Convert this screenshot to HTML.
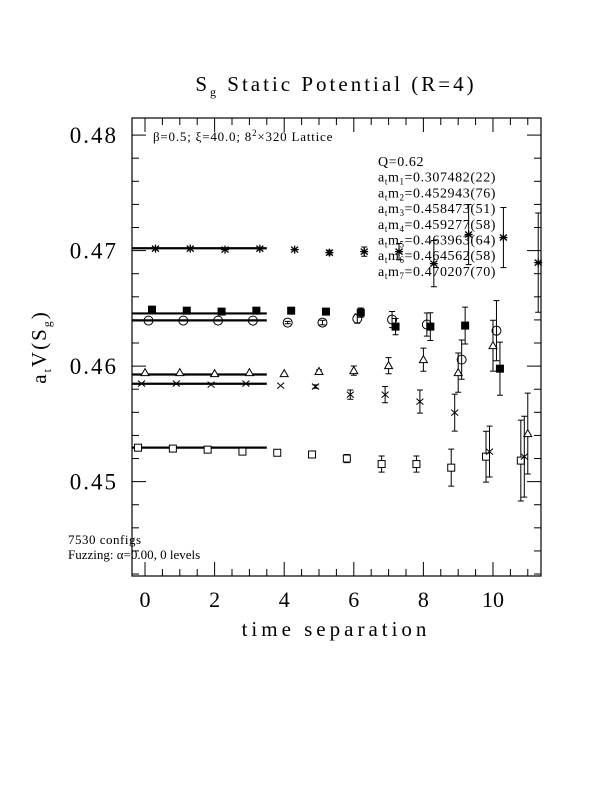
<!DOCTYPE html>
<html><head><meta charset="utf-8"><style>
body{margin:0;background:#fff}
svg{display:block;font-family:"Liberation Serif",serif}
</style></head><body>
<svg id="chart" width="612" height="792" viewBox="0 0 612 792">
<text x="336" y="91" font-size="21" letter-spacing="3" text-anchor="middle">S<tspan font-size="12" dy="5">g</tspan><tspan dy="-5"> Static Potential (R=4)</tspan></text>
<rect x="132" y="118" width="409" height="458" fill="none" stroke="#000" stroke-width="1.2"/>
<g id="ticks"></g>
<g id="marks"></g>
<text x="153" y="141" font-size="13" letter-spacing="0.8">β=0.5; ξ=40.0; 8<tspan font-size="9" dy="-5">2</tspan><tspan dy="5">×320 Lattice</tspan></text>
<g font-size="14" id="legend"></g>
<text x="68" y="544" font-size="13" letter-spacing="0.5">7530 configs</text>
<text x="68" y="559" font-size="13">Fuzzing: α=0.00, 0 levels</text>
<text x="336" y="636" font-size="21" letter-spacing="4" text-anchor="middle">time separation</text>
<text transform="translate(46,347) rotate(-90)" font-size="21" letter-spacing="2" text-anchor="middle">a<tspan font-size="12" dy="5">t</tspan><tspan dy="-5">V(S</tspan><tspan font-size="12" dy="5">g</tspan><tspan dy="-5">)</tspan></text>
</svg>
<script>
const times=[0,1,2,3,4,5,6,7,8,9,10,11];
const masses=[0.452943,0.458473,0.459277,0.463963,0.464562,0.470207];
const sqVals=[0.45294,0.45286,0.45277,0.4526,0.4525,0.45235,0.4520,0.45152,0.45152,0.45121,0.45216,0.45182];
const sqErr=[0.00005,0.00005,0.00005,0.00006,0.00007,0.0001,0.00035,0.0007,0.0007,0.0016,0.0022,0.0035];
const crVals=[0.45849,0.45849,0.4584,0.45849,0.45831,0.45823,0.45753,0.45753,0.45693,0.45597,0.45260,0.45216];
const crErr=[0.00005,0.00005,0.00005,0.00006,0.00008,0.00015,0.0004,0.0007,0.001,0.0016,0.0022,0.0035];
const trVals=[0.45944,0.45944,0.45935,0.45944,0.45935,0.45953,0.45961,0.46004,0.46056,0.45944,0.46177,0.45416];
const trErr=[0.00005,0.00005,0.00005,0.00006,0.00008,0.00015,0.0004,0.0007,0.001,0.0017,0.0022,0.0035];
const ciVals=[0.46394,0.46394,0.46394,0.46394,0.46377,0.46377,0.46411,0.46403,0.4636,0.46056,0.46307];
const ciErr=[0.00005,0.00005,0.00005,0.00006,0.0001,0.0002,0.0004,0.0007,0.001,0.0017,0.0026];
const fsVals=[0.46489,0.4648,0.46472,0.4648,0.4648,0.46472,0.46463,0.46342,0.46342,0.46351,0.45978];
const fsErr=[0.00005,0.00005,0.00005,0.00006,0.00008,0.0002,0.0004,0.0007,0.0012,0.0016,0.0023];
const asVals=[0.47017,0.47017,0.47009,0.47017,0.47009,0.46983,0.46991,0.46991,0.46887,0.47139,0.47113,0.46896];
const asErr=[0.00005,0.00005,0.00005,0.00006,0.00008,0.0002,0.0004,0.0007,0.002,0.0026,0.0026,0.0043];
const legendLines=["Q=0.62","m1=0.307482(22)","m2=0.452943(76)","m3=0.458473(51)","m4=0.459277(58)","m5=0.463963(64)","m6=0.464562(58)","m7=0.470207(70)"];
const yTicks=[0.45,0.46,0.47,0.48];
const xTicks=[0,2,4,6,8,10];

const NS="http://www.w3.org/2000/svg";
const X0=132,X1=541,Y0=118,Y1=576;
const xmin=-0.374,xmax=11.38,ymin=0.44183,ymax=0.48148;
const sx=t=>X0+(t-xmin)/(xmax-xmin)*(X1-X0);
const sy=v=>Y1-(v-ymin)/(ymax-ymin)*(Y1-Y0);
function mk(tag,attrs,parent){const e=document.createElementNS(NS,tag);for(const k in attrs)e.setAttribute(k,attrs[k]);parent.appendChild(e);return e;}
const tg=document.getElementById('ticks'),mg=document.getElementById('marks');
for(let v=0.442;v<=0.4815;v+=0.002){
  const major=yTicks.some(m=>Math.abs(m-v)<1e-6);const L=major?14:7;const y=sy(v);
  const a=mk('line',{x1:X0,x2:X0+L,y1:y,y2:y,stroke:'#000'},tg);
  
  
  const b=mk('line',{x1:X1,x2:X1-L,y1:y,y2:y,stroke:'#000'},tg);
  
  
}
yTicks.forEach(v=>{const t=mk('text',{x:118,y:sy(v)+8,'font-size':23,'letter-spacing':2,'text-anchor':'end'},tg);t.textContent=v.toFixed(2);
  
  });
for(let t=0;t<=11.01;t+=0.5){
  const major=xTicks.some(m=>Math.abs(m-t)<1e-6);const L=major?14:7;const x=sx(t);
  const a=mk('line',{x1:x,x2:x,y1:Y1,y2:Y1-L,stroke:'#000'},tg);
  
  
  const b=mk('line',{x1:x,x2:x,y1:Y0,y2:Y0+L,stroke:'#000'},tg);
  
  
}
xTicks.forEach(v=>{const t=mk('text',{x:sx(v),y:607,'font-size':22,'text-anchor':'middle'},tg);t.textContent=v;
  
  });
masses.forEach(m=>{const l=mk('line',{x1:X0,x2:sx(3.5),y1:sy(m),y2:sy(m),stroke:'#000','stroke-width':2.2},mg);
  
  });
function drawMarker(type,x,y,g){
  const s=3.5;
  if(type==='sq')mk('rect',{x:x-s,y:y-s,width:2*s,height:2*s,fill:'#fff',stroke:'#000'},g);
  if(type==='fs')mk('rect',{x:x-s-0.5,y:y-s-0.5,width:2*s+1,height:2*s+1,fill:'#000'},g);
  if(type==='ci')mk('circle',{cx:x,cy:y,r:4.5,fill:'none',stroke:'#000'},g);
  if(type==='tr')mk('path',{d:`M${x-4},${y+3}L${x+4},${y+3}L${x},${y-4}Z`,fill:'#fff',stroke:'#000'},g);
  if(type==='cr')mk('path',{d:`M${x-3.5},${y-3}L${x+3.5},${y+3}M${x-3.5},${y+3}L${x+3.5},${y-3}`,stroke:'#000'},g);
  if(type==='as')mk('path',{d:`M${x-3.5},${y-3}L${x+3.5},${y+3}M${x-3.5},${y+3}L${x+3.5},${y-3}M${x},${y-4}L${x},${y+4}M${x-4},${y}L${x+4},${y}`,stroke:'#000','stroke-width':1.3},g);
}
const series=[['sq',sqVals,sqErr,-0.2,'series-m2'],['cr',crVals,crErr,-0.1,'series-m3'],['tr',trVals,trErr,0,'series-m4'],
 ['ci',ciVals,ciErr,0.1,'series-m5'],['fs',fsVals,fsErr,0.2,'series-m6'],['as',asVals,asErr,0.3,'series-m7']];
series.forEach(([type,vals,errs,off,name])=>{
  const g=mk('g',{},mg);
  
  
  vals.forEach((v,i)=>{const x=sx(times[i]+off);if(x>X1)return;const y=sy(v);
    const yt=Math.max(Y0,sy(v+errs[i])),yb=Math.min(Y1,sy(v-errs[i]));
    if(yb-yt>2){mk('path',{d:`M${x},${yt}L${x},${yb}M${x-3},${yt}L${x+3},${yt}M${x-3},${yb}L${x+3},${yb}`,stroke:'#000'},g);}
    drawMarker(type,x,y,g);});
});
const lg=document.getElementById('legend');
legendLines.forEach((s,i)=>{const t=mk('text',{x:378,y:166+i*15.7,'letter-spacing':0.6},lg);
  
  
  if(i===0){t.textContent=s;return;}
  const [lhs,rhs]=s.split('=');
  t.innerHTML=`a<tspan font-size="9" dy="3">t</tspan><tspan dy="-3">m</tspan><tspan font-size="9" dy="3">${lhs.slice(1)}</tspan><tspan dy="-3">=${rhs}</tspan>`;
});
</script>
</body></html>
